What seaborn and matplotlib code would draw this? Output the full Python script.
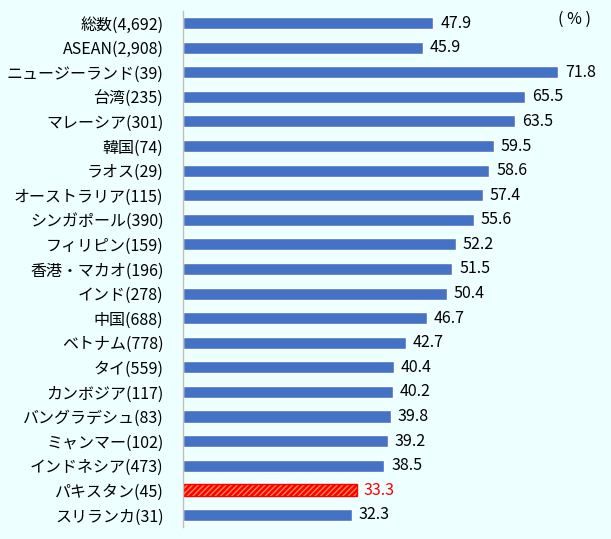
import pandas as pd
import matplotlib.pyplot as plt
import seaborn as sns

# Values
countries = ['総数(4,692)', 'ASEAN(2,908)', 'ニュージーランド(39)', '台湾(235)',
             'マレーシア(301)', '韓国(74)', 'ラオス(29)', 'オーストラリア(115)',
             'シンガポール(390)', 'フィリピン(159)', '香港・マカオ(196)', 'インド(278)',
             '中国(688)', 'ベトナム(778)', 'タイ(559)', 'カンボジア(117)',
             'バングラデシュ(83)', 'ミャンマー(102)', 'インドネシア(473)',
             'パキスタン(45)', 'スリランカ(31)']
values = [47.9, 45.9, 71.8, 65.5, 63.5, 59.5, 58.6, 57.4, 55.6, 52.2, 51.5,
          50.4, 46.7, 42.7, 40.4, 40.2, 39.8, 39.2, 38.5, 33.3, 32.3]
highlight = 'パキスタン(45)'

sns.set_theme(style='white')
plt.rcParams['font.family'] = ['Noto Sans CJK JP', 'DejaVu Sans']
plt.rcParams['hatch.linewidth'] = 1.0

bg = '#EEFFFF'
blue = '#4472C4'
red = '#FF0000'

df = pd.DataFrame({'country': countries, 'value': values})
palette = {c: (red if c == highlight else blue) for c in countries}

fig = plt.figure(figsize=(6.11, 5.39), dpi=100, facecolor=bg)
ax = fig.add_axes([0.2995, 0.022, 0.688, 0.958], facecolor=bg)

sns.barplot(data=df, y='country', x='value', hue='country', palette=palette,
            orient='h', width=0.49, legend=False, saturation=1, ax=ax)

for i, (c, v) in enumerate(zip(countries, values)):
    if c == highlight:
        bar = ax.patches[i]
        bar.set_facecolor(red)
        bar.set_edgecolor('#FF8A50')
        bar.set_hatch('//////')
        bar.set_linewidth(0)
        ax.barh(i, v, height=0.49, fill=False, edgecolor=red, linewidth=1)
    ax.text(v + 1.3, i, f'{v:.1f}', va='center', ha='left', fontsize=11.5,
            color=red if c == highlight else '#000000')

ax.set_xlim(0, 80.4)
ax.set_ylim(20.5, -0.5)
ax.set_xlabel('')
ax.set_ylabel('')
ax.set_xticks([])
ax.tick_params(axis='y', length=0, labelsize=11.5, pad=14, colors='#000000')
for s in ['top', 'right', 'bottom']:
    ax.spines[s].set_visible(False)
ax.spines['left'].set_color('#BFBFBF')
ax.spines['left'].set_linewidth(1)

fig.text(0.94, 0.965, '( % )', ha='center', va='center', fontsize=11.5,
         color='#000000')

fig.savefig('out.png', dpi=100, facecolor=bg)
